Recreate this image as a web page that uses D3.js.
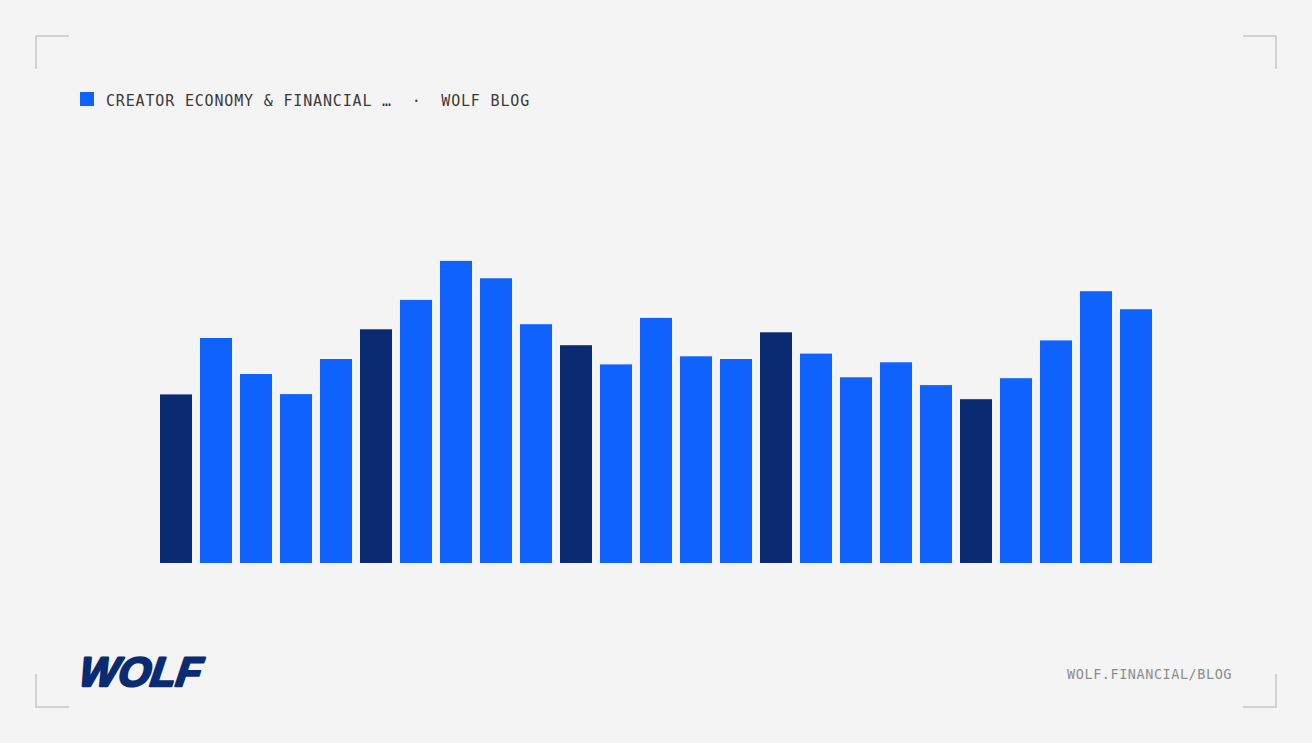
<!DOCTYPE html>
<html>
<head>
<meta charset="utf-8">
<script src="https://cdn.jsdelivr.net/npm/d3@7"></script>
<style>
  html, body { margin: 0; padding: 0; background: #f4f4f4; }
  svg { display: block; }
</style>
</head>
<body>
<script>
// ---- data ----
const categories = d3.range(1, 26).map(i => "P" + i);
const values = [56.2, 75.0, 63.0, 56.3, 68.0, 77.9, 87.7, 100.7, 94.9, 79.6,
                72.6, 66.2, 81.7, 68.9, 68.0, 76.9, 69.8, 61.9, 66.9, 59.3,
                54.6, 61.6, 74.2, 90.6, 84.6];
const highlighted = [0, 5, 10, 15, 20];
const legendLabel = "CREATOR ECONOMY & FINANCIAL …  ·  WOLF BLOG";
const footerLabel = "WOLF.FINANCIAL/BLOG";
const logoLabel = "WOLF";

const W = 1312, H = 743;
const BLUE = "#0f62fe", DARK = "#0a2b72";

const svg = d3.select("body").append("svg")
  .attr("width", W).attr("height", H);

svg.append("rect").attr("width", W).attr("height", H).attr("fill", "#f4f4f4");

// corner brackets
const cornerColor = "#d2d2d2";
const L = 33;
const corners = [
  {x: 36, y: 36, dx: 1, dy: 1},
  {x: 1276, y: 36, dx: -1, dy: 1},
  {x: 36, y: 707, dx: 1, dy: -1},
  {x: 1276, y: 707, dx: -1, dy: -1}
];
corners.forEach(c => {
  svg.append("path")
    .attr("d", `M${c.x + c.dx * L},${c.y} L${c.x},${c.y} L${c.x},${c.y + c.dy * L}`)
    .attr("fill", "none").attr("stroke", cornerColor).attr("stroke-width", 2);
});

// legend
svg.append("rect").attr("x", 80).attr("y", 92).attr("width", 14).attr("height", 14).attr("fill", BLUE);
svg.append("text")
  .attr("x", 106).attr("y", 106)
  .attr("xml:space", "preserve")
  .style("white-space", "pre")
  .attr("font-family", "'DejaVu Sans Mono', 'Liberation Mono', monospace")
  .attr("font-size", 15)
  .attr("letter-spacing", "0.83px")
  .attr("fill", "#3a3a3a")
  .text(legendLabel);

// scales
const x = d3.scaleBand().domain(categories).range([156, 1156]).paddingInner(0.2).paddingOuter(0.1);
const y = d3.scaleLinear().domain([0, 100]).range([563, 263]);

svg.append("g").selectAll("rect").data(values).join("rect")
  .attr("x", (d, i) => x(categories[i]))
  .attr("width", x.bandwidth())
  .attr("y", d => y(d))
  .attr("height", d => y(0) - y(d))
  .attr("fill", (d, i) => highlighted.includes(i) ? DARK : BLUE);

// footer
svg.append("text")
  .attr("x", 1232).attr("y", 679)
  .attr("text-anchor", "end")
  .attr("font-family", "'DejaVu Sans Mono', 'Liberation Mono', monospace")
  .attr("font-size", 13.5)
  .attr("letter-spacing", "0.55px")
  .attr("fill", "#8d8d8d")
  .text(footerLabel);

// logo
svg.append("text")
  .attr("x", 0).attr("y", 0)
  .attr("transform", "translate(78,686) skewX(-8)")
  .attr("font-family", "'Liberation Sans', Arial, sans-serif")
  .attr("font-weight", 900)
  .attr("font-style", "italic")
  .attr("font-size", 41)
  .attr("textLength", 122)
  .attr("lengthAdjust", "spacingAndGlyphs")
  .attr("fill", DARK)
  .attr("stroke", DARK)
  .attr("stroke-width", 2.4)
  .attr("stroke-linejoin", "round")
  .text(logoLabel);
</script>
</body>
</html>
